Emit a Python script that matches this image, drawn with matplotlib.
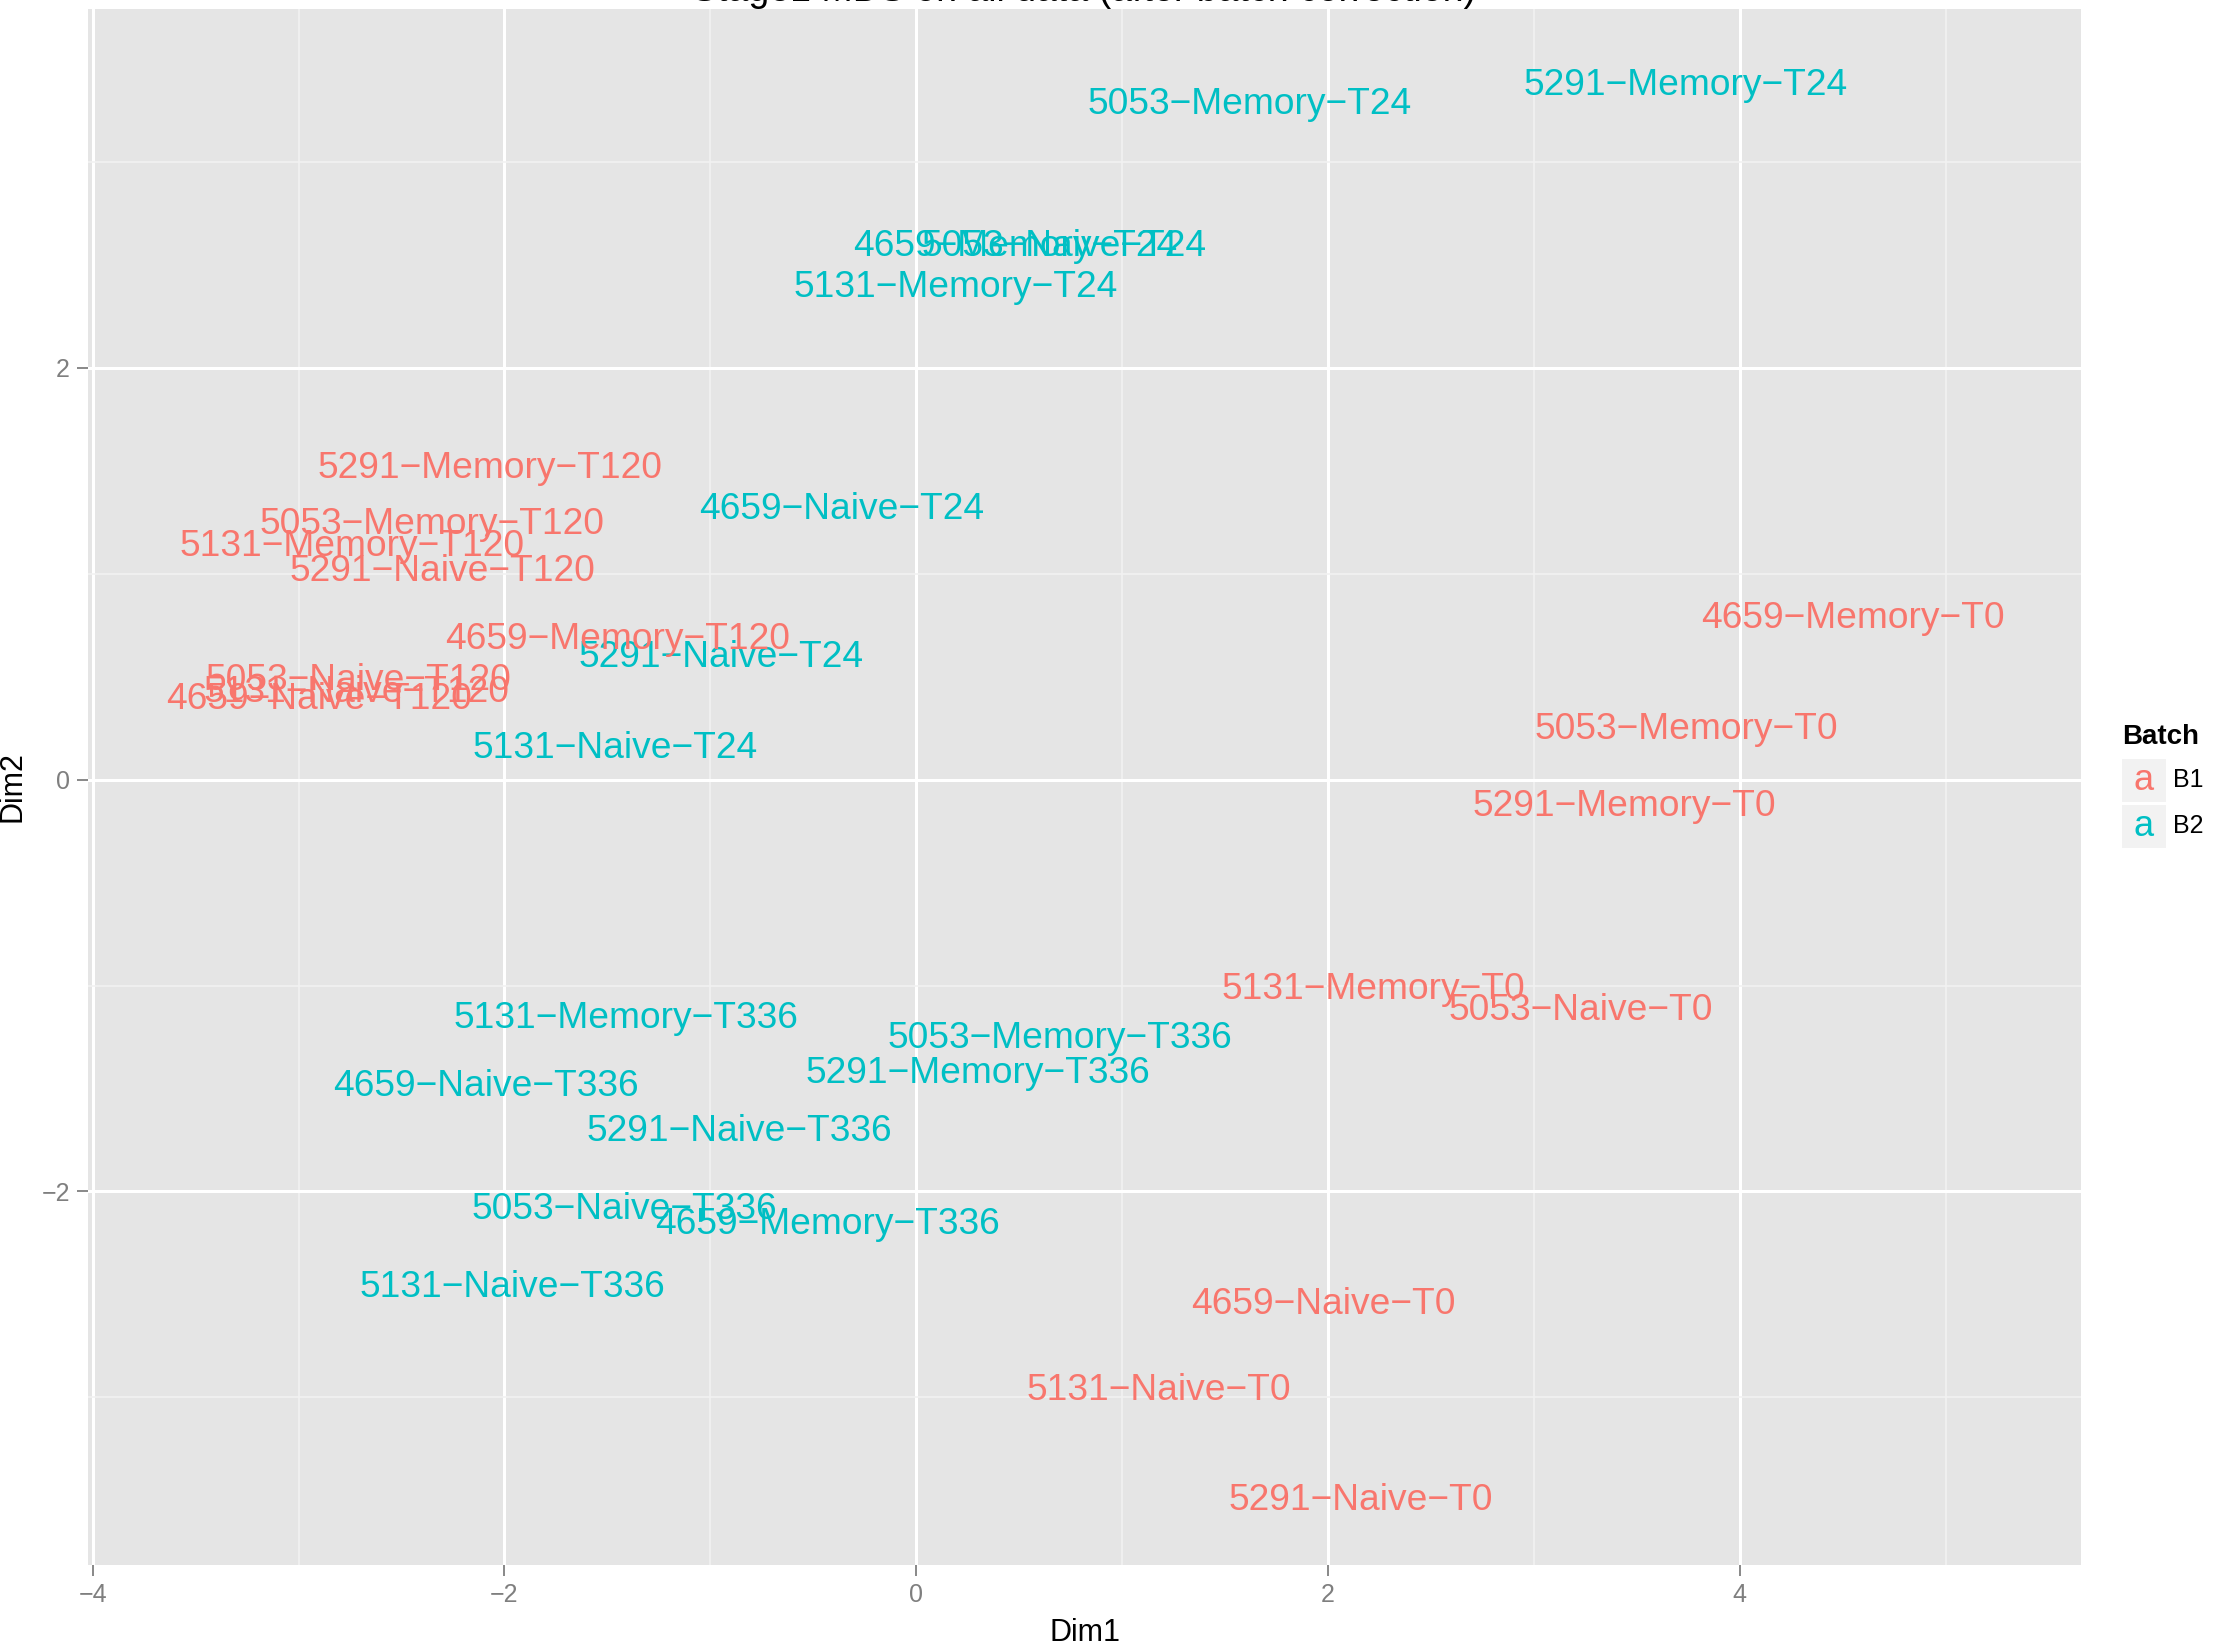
import matplotlib
matplotlib.use("Agg")
import matplotlib.pyplot as plt
from matplotlib import transforms
from matplotlib.patches import Rectangle

plt.rcParams['font.family'] = ['Liberation Sans', 'DejaVu Sans']

# sample labels, MDS coordinates and batch
labels = ["4659-Memory-T0", "5053-Memory-T0", "5131-Memory-T0", "5291-Memory-T0",
          "4659-Naive-T0", "5053-Naive-T0", "5131-Naive-T0", "5291-Naive-T0",
          "4659-Memory-T24", "5053-Memory-T24", "5131-Memory-T24", "5291-Memory-T24",
          "4659-Naive-T24", "5053-Naive-T24", "5131-Naive-T24", "5291-Naive-T24",
          "4659-Memory-T120", "5053-Memory-T120", "5131-Memory-T120", "5291-Memory-T120",
          "4659-Naive-T120", "5053-Naive-T120", "5131-Naive-T120", "5291-Naive-T120",
          "4659-Memory-T336", "5053-Memory-T336", "5131-Memory-T336", "5291-Memory-T336",
          "4659-Naive-T336", "5053-Naive-T336", "5131-Naive-T336", "5291-Naive-T336"]
dim1 = [4.55, 3.74, 2.22, 3.44, 1.98, 3.23, 1.18, 2.16,
        0.48, 1.62, 0.19, 3.74, -0.36, 0.72, -1.46, -0.95,
        -1.45, -2.35, -2.74, -2.07, -2.90, -2.71, -2.72, -2.30,
        -0.43, 0.70, -1.41, 0.30, -2.09, -1.42, -1.96, -0.86]
dim2 = [0.80, 0.26, -1.00, -0.11, -2.53, -1.10, -2.95, -3.48,
        2.61, 3.30, 2.41, 3.39, 1.33, 2.61, 0.17, 0.61,
        0.70, 1.26, 1.15, 1.53, 0.41, 0.50, 0.44, 1.03,
        -2.14, -1.24, -1.14, -1.41, -1.47, -2.07, -2.45, -1.69]
batch = ["B1"] * 8 + ["B2"] * 8 + ["B1"] * 8 + ["B2"] * 8

batch_levels = ["B1", "B2"]
batch_colors = {"B1": "#F8766D", "B2": "#00BFC4"}
title = "Stage1 MDS on all data (after batch correction)"

W, H = 2231, 1648
fig = plt.figure(figsize=(W / 100, H / 100), dpi=100)
ax = fig.add_axes([88 / W, 1 - 1565 / H, (2081 - 88) / W, (1565 - 9) / H])
ax.set_facecolor("#E5E5E5")
for s in ax.spines.values():
    s.set_visible(False)

ax.set_xlim(-4.023, 5.658)
ax.set_ylim(-3.814, 3.743)
ax.set_xticks([-4, -2, 0, 2, 4])
ax.set_yticks([-2, 0, 2])
ax.set_xticks([-3, -1, 1, 3, 5], minor=True)
ax.set_yticks([-3, -1, 1, 3], minor=True)
ax.grid(which="major", color="white", lw=2.2)
ax.grid(which="minor", color="#F2F2F2", lw=1.2)
ax.set_axisbelow(True)
ax.tick_params(which="major", length=8, width=1.3, color="#7F7F7F",
               labelcolor="#7F7F7F", labelsize=18, pad=5)
ax.tick_params(which="minor", length=0)

# centre text on cap height like ggplot's geom_text
trans = transforms.offset_copy(ax.transData, fig=fig, y=-9.6, units="points")
for lab, x, y, b in zip(labels, dim1, dim2, batch):
    ax.text(x, y, lab.replace("-", "\u2212"), color=batch_colors[b], fontsize=26.7,
            ha="center", va="baseline", transform=trans)

ax.set_xlabel("Dim1", fontsize=22, labelpad=8)
ax.set_ylabel("Dim2", fontsize=22, labelpad=10)

fig.text((88 + 2081) / 2 / W, 1 - 1 / H, title, fontsize=27, ha="center", va="baseline")

# legend
fig.text(2122 / W, 1 - 737 / H, "Batch", fontsize=20, fontweight="bold", va="center", ha="left")
for i, b in enumerate(batch_levels):
    y0 = 759 + i * 46
    fig.patches.append(Rectangle((2122 / W, 1 - (y0 + 43) / H), 44 / W, 43 / H,
                                 transform=fig.transFigure, facecolor="#F2F2F2",
                                 edgecolor="none"))
    fig.text(2144 / W, 1 - (y0 + 21) / H, "a", color=batch_colors[b], fontsize=26,
             ha="center", va="center")
    fig.text(2173 / W, 1 - (y0 + 21) / H, b, fontsize=18, ha="left", va="center")

fig.savefig("out.png", dpi=100)
